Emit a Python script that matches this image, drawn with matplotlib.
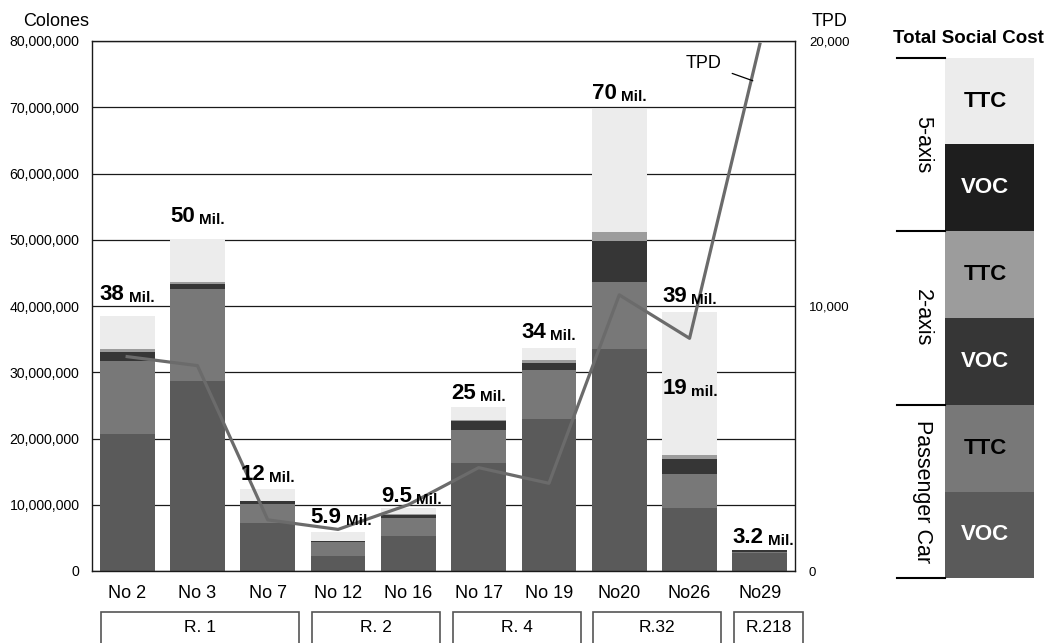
import matplotlib
matplotlib.use('Agg')
import matplotlib.pyplot as plt
from matplotlib.patches import Rectangle
from matplotlib.transforms import blended_transform_factory
from matplotlib.ticker import FuncFormatter
import numpy as np

plt.rcParams['font.family'] = ['Liberation Sans', 'DejaVu Sans']

# Survey stations and the routes they belong to
stations = ["No 2", "No 3", "No 7", "No 12", "No 16", "No 17", "No 19", "No20", "No26", "No29"]
routes = ["R. 1", "R. 2", "R. 4", "R.32", "R.218"]
route_first = [0, 3, 5, 7, 9]
route_last = [2, 4, 6, 8, 9]

# Social cost components, million colones
pc_voc = [20.7, 28.7, 7.3, 2.3, 5.3, 16.35, 23.0, 33.5, 9.5, 2.65]
pc_ttc = [11.0, 13.9, 2.8, 2.1, 2.75, 4.95, 7.3, 10.1, 5.1, 0.25]
axle2_voc = [1.35, 0.75, 0.4, 0.1, 0.4, 1.35, 1.1, 6.2, 2.25, 0.3]
axle2_ttc = [0.5, 0.3, 0.1, 0.0, 0.1, 0.15, 0.45, 1.3, 0.6, 0.0]
axle5_voc = [0.0, 0.0, 0.0, 0.0, 0.0, 0.0, 0.0, 0.0, 0.0, 0.0]
axle5_ttc = [4.9, 6.5, 1.8, 1.4, 0.95, 2.0, 1.8, 18.7, 21.7, 0.0]

# Traffic per day
tpd = [8090, 7750, 1930, 1570, 2500, 3900, 3310, 10420, 8780, 19880]

SERIES = [
    ("Passenger Car", "VOC", pc_voc, "#5a5a5a", "white"),
    ("Passenger Car", "TTC", pc_ttc, "#787878", "black"),
    ("2-axis", "VOC", axle2_voc, "#363636", "white"),
    ("2-axis", "TTC", axle2_ttc, "#9c9c9c", "black"),
    ("5-axis", "VOC", axle5_voc, "#1e1e1e", "white"),
    ("5-axis", "TTC", axle5_ttc, "#ececec", "black"),
]
LINE_COLOR = "#6b6b6b"

W, H = 1048, 643
fig = plt.figure(figsize=(W / 100, H / 100), dpi=100)
ax = fig.add_axes([92 / W, 1 - 571 / H, 703 / W, 530 / H])

x = np.arange(len(stations))
bar_w = 0.78
bottom = np.zeros(len(stations))
for _, _, vals, color, _ in SERIES:
    v = np.array(vals) * 1e6
    ax.bar(x, v, bar_w, bottom=bottom, color=color, linewidth=0, zorder=2)
    bottom += v
totals = bottom / 1e6

ax.set_xlim(-0.5, len(stations) - 0.5)
ax.set_ylim(0, 80e6)
ax.set_yticks(np.arange(0, 80e6 + 1, 10e6))
ax.yaxis.set_major_formatter(FuncFormatter(lambda v, p: f"{v:,.0f}"))
ax.tick_params(axis='y', length=0, pad=9, labelsize=10.2)
ax.set_xticks(x)
ax.set_xticklabels(stations)
ax.tick_params(axis='x', length=0, pad=10, labelsize=13)
ax.grid(axis='y', color='#1a1a1a', linewidth=0.9)
ax.set_axisbelow(True)
for s in ax.spines.values():
    s.set_color('#1a1a1a')
    s.set_linewidth(1.0)

# TPD on the secondary axis
ax2 = ax.twinx()
ax2.plot(x, tpd, color=LINE_COLOR, linewidth=2.3, zorder=3)
ax2.set_ylim(0, 20000)
ax2.set_yticks([0, 10000, 20000])
ax2.yaxis.set_major_formatter(FuncFormatter(lambda v, p: f"{v:,.0f}"))
ax2.tick_params(axis='y', length=0, pad=10, labelsize=9.5)
for s in ax2.spines.values():
    s.set_visible(False)
ax2.annotate("TPD", xy=(8.9, 18500), xytext=(8.2, 19160), fontsize=13,
             ha='center', va='center',
             arrowprops=dict(arrowstyle='-', color='black', lw=0.9,
                             shrinkA=6, shrinkB=0))

# Total labels above each bar
label_gap = [12, 12, 6.5, 6.5, 4.5, 5.5, 7, 7, 7, 5]
for i, t in enumerate(totals):
    txt = f"{t:.0f}" if t >= 10 else f"{t:.1f}"
    num = ax2.annotate(txt, xy=(i - bar_w / 2, t * 1e6), xycoords=ax.transData,
                       xytext=(0, label_gap[i]), textcoords='offset points',
                       fontsize=16, fontweight='bold', ha='left', va='baseline',
                       zorder=5)
    ax2.annotate("Mil.", xy=(1, 0), xycoords=num, xytext=(3, 0),
                 textcoords='offset points', fontsize=11, fontweight='bold',
                 ha='left', va='bottom', zorder=5)
num = ax2.annotate("19", xy=(8 - bar_w / 2, 26.7e6), xycoords=ax.transData,
                   fontsize=16, fontweight='bold', ha='left', va='baseline', zorder=5)
ax2.annotate("mil.", xy=(1, 0), xycoords=num, xytext=(3, 0),
             textcoords='offset points', fontsize=11, fontweight='bold',
             ha='left', va='bottom', zorder=5)

# Route boxes under the station names
trans = blended_transform_factory(ax.transData, fig.transFigure)
for name, a, b in zip(routes, route_first, route_last):
    left = a - 0.37
    right = b + (0.62 if a == b else 0.45)
    ax.add_patch(Rectangle((left, -0.05), right - left, 0.05 + 1 - 612 / H,
                           transform=trans, clip_on=False, fill=False,
                           edgecolor='#555555', linewidth=1.2))
    ax.text((left + right) / 2, 1 - 628 / H, name, transform=trans,
            ha='center', va='center', fontsize=12.5)

fig.text(56 / W, 1 - 22 / H, "Colones", ha='center', va='center', fontsize=13)
fig.text(830 / W, 1 - 22 / H, "TPD", ha='center', va='center', fontsize=13)

# Legend column: Total Social Cost by vehicle type
lax = fig.add_axes([945 / W, 1 - 578.3 / H, 89 / W, 520.6 / H])
for k, (group, comp, _, color, tcolor) in enumerate(SERIES):
    lax.bar(0.5, 1, 1.0, bottom=k, color=color, linewidth=0)
    lax.text(0.45, k + 0.5, comp, ha='center', va='center', fontsize=16,
             fontweight='bold', color=tcolor)
lax.set_xlim(0, 1)
lax.set_ylim(0, 6)
lax.axis('off')
for yb in [0, 2, 4, 6]:
    lax.plot([-0.543, 0], [yb, yb], color='black', linewidth=1.5, clip_on=False)
for yc, group in zip([1, 3, 5], ["Passenger Car", "2-axis", "5-axis"]):
    lax.text(-0.25, yc, group, rotation=-90, ha='center', va='center', fontsize=15.5)
fig.text(968 / W, 1 - 38.5 / H, "Total Social Cost", ha='center', va='center',
         fontsize=13.5, fontweight='bold')

fig.savefig("out.png", dpi=100)
